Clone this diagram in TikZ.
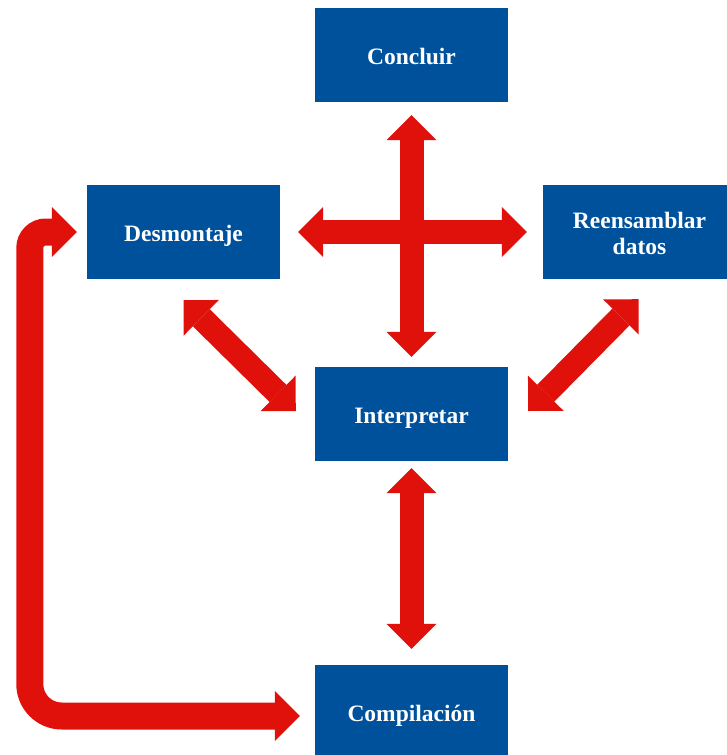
\documentclass[tikz,border=0pt]{standalone}
\usepackage{fontspec}
\setmainfont{Liberation Serif}
\usetikzlibrary{arrows.meta, positioning}

\definecolor{stageblue}{RGB}{0,81,155}
\definecolor{flowred}{RGB}{224,16,10}

\begin{document}
\begin{tikzpicture}[x=1pt, y=-1pt,
    stage/.style={rectangle, fill=stageblue, text=white, minimum width=193pt, minimum height=94pt, inner sep=0pt, align=center, text height=19pt, text depth=0pt, font=\fontsize{23.5}{26}\selectfont\bfseries},
    bigarrow/.style={{Triangle[width=50pt, length=25pt, line width=0pt]}-{Triangle[width=50pt, length=25pt, line width=0pt]}, draw=flowred, line width=24pt}
]
\useasboundingbox (0,0) rectangle (727,755);

% Stages
\node[stage] (concluir) at (411.5, 55) {Concluir};
\node[stage] (desmontaje) at (183.5, 232) {Desmontaje};
\node[stage, text height=45pt] (reensamblar) at (639.5, 232) {Reensamblar\\datos};
\node[stage] (interpretar) at (411.5, 414) {Interpretar};
\node[stage] (compilacion) at (411.5, 712) {Compilación};

% Cross
\draw[bigarrow] ([yshift=-13pt]concluir.south) -- ([yshift=10pt]interpretar.north);
\draw[bigarrow] ([xshift=18pt]desmontaje.east) -- ([xshift=-16pt]reensamblar.west);

% Diagonals
\draw[bigarrow] ([yshift=-21pt]desmontaje.south) -- ([xshift=-19pt, yshift=3pt]interpretar.west);
\draw[bigarrow] ([xshift=-1pt, yshift=-20pt]reensamblar.south) -- ([xshift=20pt, yshift=3pt]interpretar.east);

% Down to compilation
\draw[bigarrow] ([yshift=-7pt]interpretar.south) -- ([yshift=16pt]compilacion.north);

% Loop back
\draw[bigarrow, line width=27pt, rounded corners=16pt] ([xshift=-10pt]desmontaje.west) -- ++(-47,0) [rounded corners=32pt] |- ([xshift=-15pt, yshift=-4pt]compilacion.west);

\end{tikzpicture}
\end{document}
